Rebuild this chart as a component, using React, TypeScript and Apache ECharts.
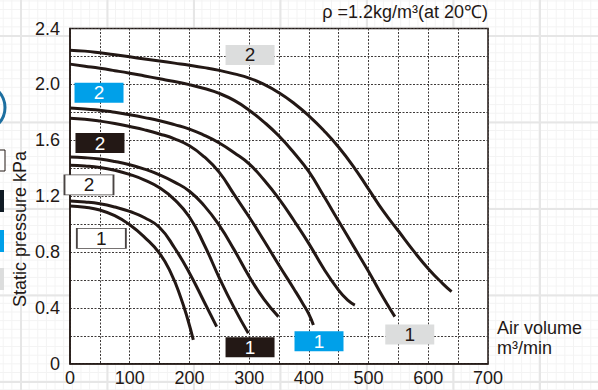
import React, { useEffect, useRef } from "react";
import * as echarts from "echarts";

// ---- Data (air volume m3/min, static pressure kPa) ----
const curve1a: [number, number][] = [
  [0, 1.13], [25, 1.12], [50, 1.1], [75, 1.06], [100, 0.995], [125, 0.905], [150, 0.79], [170, 0.64], [185, 0.48], [197, 0.32], [206.5, 0.17],
];
const curve1b: [number, number][] = [
  [0, 1.165], [25, 1.158], [50, 1.145], [75, 1.122], [100, 1.09], [125, 1.045], [150, 0.975], [175, 0.83], [200, 0.65], [225, 0.44], [245.6, 0.265],
];
const curve2a: [number, number][] = [
  [0, 1.42], [25, 1.415], [50, 1.405], [75, 1.385], [100, 1.355], [125, 1.315], [150, 1.26], [175, 1.175], [200, 1.05], [225, 0.85], [250, 0.615], [275, 0.4], [298.6, 0.218],
];
const curve2b: [number, number][] = [
  [0, 1.48], [25, 1.475], [50, 1.465], [75, 1.448], [100, 1.425], [125, 1.393], [150, 1.352], [175, 1.3], [200, 1.235], [225, 1.13], [250, 0.99], [275, 0.815], [300, 0.625], [325, 0.46], [349, 0.337],
];
const curve3a: [number, number][] = [
  [0, 1.758], [25, 1.75], [50, 1.737], [75, 1.72], [100, 1.698], [125, 1.674], [150, 1.645], [175, 1.61], [200, 1.56], [225, 1.48], [250, 1.37], [275, 1.21], [300, 1.05], [325, 0.88], [350, 0.705], [375, 0.535], [390, 0.43], [400, 0.355], [407.6, 0.277],
];
const curve3b: [number, number][] = [
  [0, 1.83], [25, 1.823], [50, 1.815], [75, 1.8], [100, 1.782], [125, 1.762], [150, 1.74], [175, 1.712], [200, 1.68], [225, 1.635], [250, 1.58], [275, 1.51], [300, 1.43], [325, 1.315], [350, 1.18], [375, 1.025], [400, 0.86], [425, 0.68], [450, 0.525], [465, 0.455], [477, 0.42],
];
const curve4a: [number, number][] = [
  [0, 2.145], [25, 2.13], [50, 2.115], [75, 2.098], [100, 2.08], [125, 2.06], [150, 2.04], [175, 2.02], [200, 1.998], [225, 1.97], [250, 1.935], [275, 1.885], [300, 1.815], [325, 1.73], [350, 1.63], [375, 1.51], [400, 1.375], [425, 1.2], [450, 1.02], [475, 0.84], [500, 0.66], [525, 0.47], [544, 0.337],
];
const curve4b: [number, number][] = [
  [0, 2.245], [25, 2.238], [50, 2.226], [75, 2.212], [100, 2.197], [125, 2.182], [150, 2.167], [175, 2.152], [200, 2.137], [225, 2.12], [250, 2.1], [275, 2.075], [300, 2.045], [325, 2.0], [350, 1.94], [375, 1.865], [400, 1.775], [425, 1.67], [450, 1.55], [475, 1.41], [500, 1.25], [525, 1.09], [550, 0.95], [575, 0.81], [600, 0.68], [625, 0.57], [639, 0.516],
];
const curves = [curve1a, curve1b, curve2a, curve2b, curve3a, curve3b, curve4a, curve4b];

// Tag boxes (annotation labels)
const tagTexts = ["2", "2", "2", "2", "1", "1", "1", "1"];
const tagX = [301.5, 48.6, 50.2, 31.8, 52.5, 301.5, 417, 569];
const tagY = [2.211, 1.94, 1.58, 1.28, 0.897, 0.118, 0.16, 0.209];
const tagKinds = ["gray", "blue", "black", "white", "white", "black", "blue", "gray"];

const INK = "#231815";
const FONT = "Liberation Sans, Arial, Helvetica, sans-serif";

const kindStyle: Record<string, { fill: string; text: string; border: string }> = {
  gray: { fill: "#dcdddd", text: INK, border: "#dcdddd" },
  blue: { fill: "#00a0e9", text: "#ffffff", border: "#00a0e9" },
  black: { fill: INK, text: "#ffffff", border: INK },
  white: { fill: "#ffffff", text: INK, border: "#4a4443" },
};

export default function App() {
  const ref = useRef<HTMLDivElement>(null);
  useEffect(() => {
    if (!ref.current) return;
    const chart = echarts.init(ref.current, undefined, { renderer: "svg" });
    const lineSeries = curves.map((c) => ({
      type: "line",
      data: c,
      showSymbol: false,
      smooth: 0.5,
      lineStyle: { color: INK, width: 3 },
      z: 3,
    }));
    const tagSeries = {
      type: "scatter",
      z: 4,
      data: tagTexts.map((t, i) => {
        const s = kindStyle[tagKinds[i]];
        return {
          value: [tagX[i], tagY[i]],
          itemStyle: { color: s.fill, borderColor: s.border, borderWidth: tagKinds[i] === "white" ? 1.2 : 0, opacity: 1 },
          label: {
            show: true,
            position: "inside",
            formatter: t,
            color: s.text,
            fontSize: 19,
            fontFamily: FONT,
          },
        };
      }),
      symbol: "rect",
      symbolSize: [49, 20],
    };
    chart.setOption({
      animation: false,
      grid: {
        left: 70,
        right: 110,
        top: 28.5,
        bottom: 26.3,
        show: true,
        backgroundColor: "#ffffff",
        borderColor: INK,
        borderWidth: 1.5,
      },
      xAxis: {
        type: "value",
        min: 0,
        max: 700,
        interval: 50,
        axisLine: { show: true, lineStyle: { color: INK, width: 1.5 } },
        axisTick: { show: false },
        axisLabel: {
          color: INK,
          fontSize: 18,
          fontFamily: FONT,
          margin: 5,
          formatter: (v: number) => (Math.round(v) % 100 === 0 ? String(v) : ""),
        },
        splitLine: { show: true, lineStyle: { color: "#3e3a39", width: 1, type: [2, 1.5] } },
      },
      yAxis: {
        type: "value",
        min: 0,
        max: 2.4,
        interval: 0.2,
        axisLine: { show: true, lineStyle: { color: INK, width: 1.5 } },
        axisTick: { show: false },
        axisLabel: {
          color: INK,
          fontSize: 18,
          fontFamily: FONT,
          margin: 10,
          formatter: (v: number) => {
            const k = Math.round(v * 10);
            if (k % 4 !== 0) return "";
            return k === 0 ? "0" : v.toFixed(1);
          },
        },
        splitLine: { show: true, lineStyle: { color: "#3e3a39", width: 1, type: [2, 1.5] } },
      },
      series: [...lineSeries, tagSeries],
      graphic: [
        {
          type: "text",
          x: 20,
          y: 229,
          rotation: Math.PI / 2,
          style: { text: "Static pressure kPa", fill: INK, font: `18px ${FONT}`, textAlign: "center", textVerticalAlign: "middle" },
        },
        {
          type: "text",
          right: 110,
          top: 3,
          style: { text: "ρ =1.2kg/m³(at 20℃)", fill: INK, font: `18px ${FONT}` },
        },
        {
          type: "text",
          x: 497,
          y: 328,
          style: { text: "Air volume", fill: INK, font: `18px ${FONT}`, textVerticalAlign: "middle" },
        },
        {
          type: "text",
          x: 497,
          y: 348,
          style: { text: "m³/min", fill: INK, font: `18px ${FONT}`, textVerticalAlign: "middle" },
        },
        // partially visible page elements at the left edge
        { type: "arc", shape: { cx: -18.5, cy: 107.5, r: 23.5, startAngle: -Math.PI / 2, endAngle: Math.PI / 2 }, style: { stroke: "#1d6fa0", lineWidth: 3, fill: "none" } },
        { type: "rect", shape: { x: -40, y: 150, width: 45, height: 21 }, style: { fill: "#ffffff", stroke: INK, lineWidth: 1 } },
        { type: "rect", shape: { x: -40, y: 190, width: 44, height: 22 }, style: { fill: "#0f1a24" } },
        { type: "rect", shape: { x: -40, y: 230, width: 44, height: 22 }, style: { fill: "#00a0e9" } },
        { type: "rect", shape: { x: -40, y: 268, width: 44, height: 22 }, style: { fill: "#dcdddd" } },
      ],
    });
    return () => chart.dispose();
  }, []);
  const bg = {
    position: "fixed" as const,
    left: 0,
    top: 0,
    width: 598,
    height: 390,
    backgroundColor: "#ffffff",
    backgroundImage:
      "linear-gradient(to right, #e6e6e6 2px, transparent 2px), linear-gradient(to bottom, #e6e6e6 2px, transparent 2px), linear-gradient(to right, #f3f3f3 1px, transparent 1px), linear-gradient(to bottom, #f3f3f3 1px, transparent 1px)",
    backgroundSize: "86.5px 86.5px, 86.5px 86.5px, 8.65px 8.65px, 8.65px 8.65px",
    backgroundPosition: "20px 35px, 20px 35px, 20px 35px, 20px 35px",
  };
  return <div ref={ref} style={bg} />;
}
